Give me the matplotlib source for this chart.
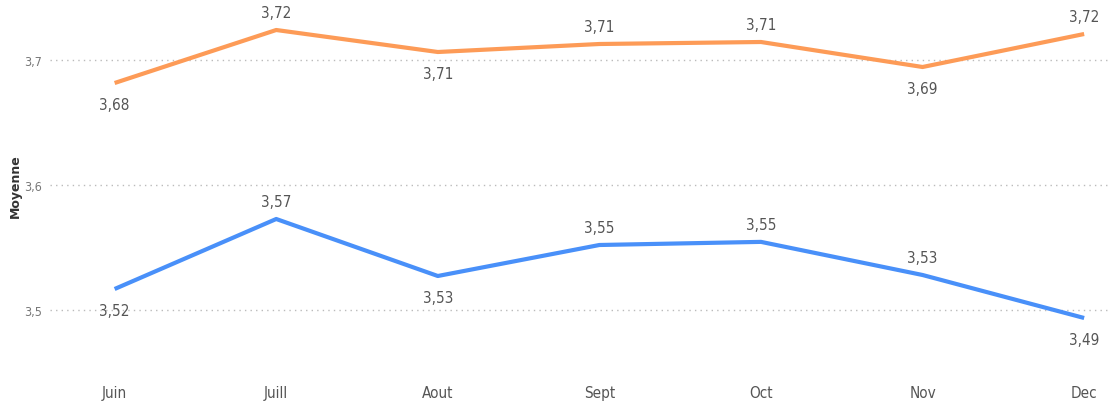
import matplotlib
matplotlib.use("Agg")
import matplotlib.pyplot as plt
from matplotlib import font_manager

months = ["Juin", "Juill", "Aout", "Sept", "Oct", "Nov", "Dec"]
orange_vals = [3.6816, 3.7240, 3.7064, 3.7128, 3.7144, 3.6944, 3.7208]
blue_vals = [3.5168, 3.5728, 3.5272, 3.5520, 3.5545, 3.5280, 3.4936]
orange_pos = ["below", "above", "below", "above", "above", "below", "above"]
blue_pos = ["below", "above", "below", "above", "above", "above", "below"]
yticks = [3.5, 3.6, 3.7]
ytick_labels = ["3,5", "3,6", "3,7"]

names = {f.name for f in font_manager.fontManager.ttflist}
fam = "Liberation Sans Narrow" if "Liberation Sans Narrow" in names else "DejaVu Sans"
stretch = "normal" if fam == "Liberation Sans Narrow" else "condensed"

fig = plt.figure(figsize=(11.14, 4.06), dpi=100)
ax = fig.add_axes([50/1114, 1 - 360/406, 1060/1114, 360/406])

c_orange = "#FD9B57"
c_blue = "#4990F9"
ax.plot(range(len(months)), orange_vals, color=c_orange, lw=3, solid_capstyle="butt", zorder=3)
ax.plot(range(len(months)), blue_vals, color=c_blue, lw=3, solid_capstyle="butt", zorder=3)

def fmt(v):
    return f"{v:.2f}".replace(".", ",")

for vals, pos in ((orange_vals, orange_pos), (blue_vals, blue_pos)):
    for i, (v, p) in enumerate(zip(vals, pos)):
        if p == "above":
            ax.annotate(fmt(v), (i, v), xytext=(0, 7), textcoords="offset points",
                        ha="center", va="bottom", fontsize=11, color="#555555",
                        family=fam, fontstretch=stretch)
        else:
            ax.annotate(fmt(v), (i, v), xytext=(0, -10), textcoords="offset points",
                        ha="center", va="top", fontsize=11, color="#555555",
                        family=fam, fontstretch=stretch)

ax.set_xlim(-0.40, 6.16)
ax.set_ylim(3.4608, 3.7488)
ax.set_yticks(yticks)
ax.set_yticklabels(ytick_labels, family=fam, fontsize=9, color="#777777", fontstretch=stretch)
ax.set_xticks(range(len(months)))
ax.set_xticklabels(months, family=fam, fontsize=11, color="#555555", fontstretch=stretch)
ax.tick_params(axis="both", length=0)
ax.tick_params(axis="x", pad=19)
ax.tick_params(axis="y", pad=6)
ax.grid(axis="y", color="#BBBBBB", linestyle=(0, (1, 3)), lw=1)
for s in ax.spines.values():
    s.set_visible(False)

fig.text(15/1114, 1 - 186/406, "Moyenne", rotation=90, ha="center", va="center",
         fontsize=9, color="#333333", family="DejaVu Sans", fontweight="semibold")

fig.savefig("out.png", dpi=100)
